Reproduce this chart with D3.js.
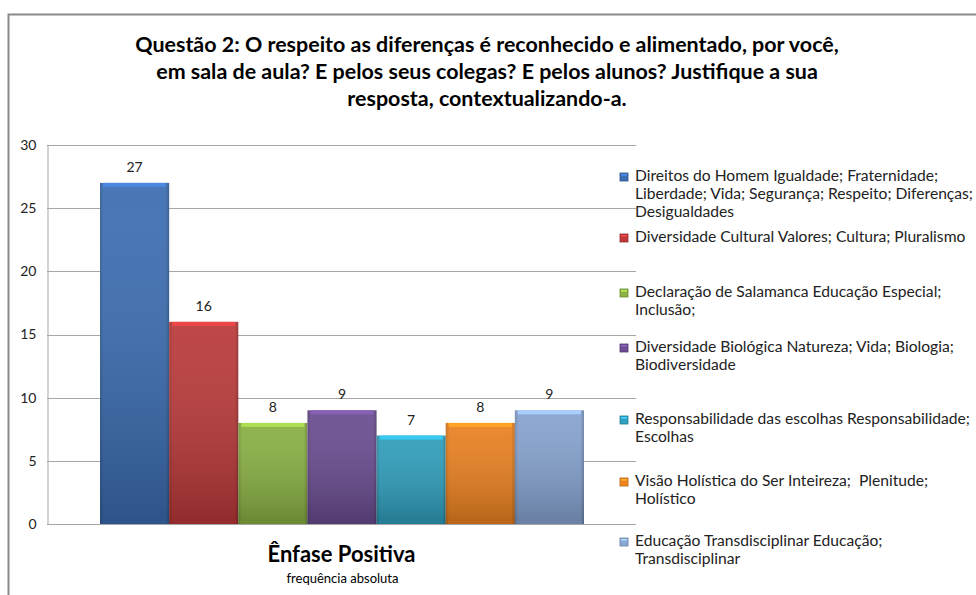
<!DOCTYPE html>
<html><head><meta charset="utf-8">
<script src="https://cdn.jsdelivr.net/npm/d3@7"></script>
<style>body{margin:0;background:#fff}svg{display:block}text{white-space:pre}</style>
</head><body>
<svg id="c" width="976" height="595"></svg>
<script>
const titleLines = ["Questão 2: O respeito as diferenças é reconhecido e alimentado, por você,",
  "em sala de aula? E pelos seus colegas? E pelos alunos? Justifique a sua",
  "resposta, contextualizando-a."];
const category = "Ênfase Positiva";
const axisSubtitle = "frequência absoluta";
const seriesNames = [
  "Direitos do Homem Igualdade; Fraternidade; Liberdade; Vida; Segurança; Respeito; Diferenças; Desigualdades",
  "Diversidade Cultural Valores; Cultura; Pluralismo",
  "Declaração de Salamanca Educação Especial; Inclusão;",
  "Diversidade Biológica Natureza; Vida; Biologia; Biodiversidade",
  "Responsabilidade das escolhas Responsabilidade; Escolhas",
  "Visão Holística do Ser Inteireza;  Plenitude; Holístico",
  "Educação Transdisciplinar Educação; Transdisciplinar"];
const legendLines = [
  ["Direitos do Homem Igualdade; Fraternidade;", "Liberdade; Vida; Segurança; Respeito; Diferenças;", "Desigualdades"],
  ["Diversidade Cultural Valores; Cultura; Pluralismo"],
  ["Declaração de Salamanca Educação Especial;", "Inclusão;"],
  ["Diversidade Biológica Natureza; Vida; Biologia;", "Biodiversidade"],
  ["Responsabilidade das escolhas Responsabilidade;", "Escolhas"],
  ["Visão Holística do Ser Inteireza;  Plenitude;", "Holístico"],
  ["Educação Transdisciplinar Educação;", "Transdisciplinar"]];
const values = [27, 16, 8, 9, 7, 8, 9];
const colors = ["#3b6fb6", "#c0393a", "#8cb443", "#6c4d94", "#2fa2c1", "#f1841f", "#89a7d6"];
const yTicks = [0, 5, 10, 15, 20, 25, 30];

const svg = d3.select("#c");
const FONT = "Lato, 'Open Sans', sans-serif";

// outer frame
svg.append("path").attr("d", "M8.5,595 V14.5 H976").attr("fill", "none").attr("stroke", "#8a8a8a").attr("stroke-width", 2);

const plot = {l: 47, r: 636, t: 145, b: 524};
const y = d3.scaleLinear().domain([0, 30]).range([plot.b, plot.t]);
const x = d3.scaleBand().domain(seriesNames).range([100, 584]).padding(0);

// defs gradients
const defs = svg.append("defs");
colors.forEach((c, i) => {
  const g = defs.append("linearGradient").attr("id", "g" + i).attr("x1", 0).attr("x2", 1).attr("y1", 0).attr("y2", 0);
  const base = d3.color(c);
  g.append("stop").attr("offset", 0).attr("stop-color", base.darker(0.6));
  g.append("stop").attr("offset", 0.05).attr("stop-color", base.darker(0.1));
  g.append("stop").attr("offset", 0.95).attr("stop-color", base.darker(0.1));
  g.append("stop").attr("offset", 1).attr("stop-color", base.darker(0.8));
  const v = defs.append("linearGradient").attr("id", "v" + i).attr("x1", 0).attr("x2", 0).attr("y1", 0).attr("y2", 1);
  v.append("stop").attr("offset", 0).attr("stop-color", "#fff").attr("stop-opacity", 0.08);
  v.append("stop").attr("offset", 1).attr("stop-color", "#000").attr("stop-opacity", 0.22);
});

// gridlines
svg.append("g").selectAll("line").data(yTicks.filter(d => d > 0)).join("line")
  .attr("x1", plot.l).attr("x2", plot.r).attr("y1", d => Math.round(y(d)) + 0.5).attr("y2", d => Math.round(y(d)) + 0.5)
  .attr("stroke", "#a6a6a6").attr("stroke-width", 1);

// y axis
const yAxis = svg.append("g").attr("transform", `translate(${plot.l + 0.5},0)`)
  .call(d3.axisLeft(y).tickValues(yTicks).tickSize(0).tickPadding(11));
yAxis.select(".domain").attr("stroke", "#a6a6a6");
yAxis.selectAll("text").attr("font-family", FONT).attr("font-size", 14).attr("fill", "#222");
// bottom axis line
svg.append("line").attr("x1", plot.l).attr("x2", plot.r).attr("y1", plot.b + 0.5).attr("y2", plot.b + 0.5).attr("stroke", "#a6a6a6");

// bars
const bars = svg.append("g");
const data = seriesNames.map((s, i) => ({s, v: values[i], i}));
bars.selectAll("rect.bar").data(data).join("rect").attr("class", "bar")
  .attr("x", d => x(d.s)).attr("width", x.bandwidth()).attr("y", d => y(d.v)).attr("height", d => y(0) - y(d.v))
  .attr("fill", d => `url(#g${d.i})`);
bars.selectAll("rect.shade").data(data).join("rect").attr("class", "shade")
  .attr("x", d => x(d.s)).attr("width", x.bandwidth()).attr("y", d => y(d.v)).attr("height", d => y(0) - y(d.v))
  .attr("fill", d => `url(#v${d.i})`);
bars.selectAll("rect.cap").data(data).join("rect").attr("class", "cap")
  .attr("x", d => x(d.s) + 3).attr("width", x.bandwidth() - 6).attr("y", d => y(d.v)).attr("height", 4)
  .attr("fill", d => d3.color(colors[d.i]).brighter(0.6));
bars.selectAll("rect.bot").data(data).join("rect").attr("class", "bot")
  .attr("x", d => x(d.s) + 2).attr("width", x.bandwidth() - 4).attr("y", y(0) - 3).attr("height", 3)
  .attr("fill", d => d3.color(colors[d.i]).darker(0.7));

// value labels
svg.append("g").selectAll("text").data(data).join("text")
  .attr("x", d => x(d.s) + x.bandwidth() / 2).attr("y", d => y(d.v) - 11)
  .attr("text-anchor", "middle").attr("font-family", FONT).attr("font-size", 14).attr("fill", "#222")
  .text(d => d.v);

// fit helper
function fit(sel, target) {
  const w = sel.node().getComputedTextLength();
  const fs = parseFloat(sel.attr("font-size"));
  sel.attr("font-size", (fs * target / w).toFixed(2));
}

// title
const tY = [52, 79, 106];
const t0 = svg.append("text").attr("x", 487).attr("y", tY[0]).attr("text-anchor", "middle")
  .attr("font-family", FONT).attr("font-weight", "bold").attr("font-size", 19).attr("fill", "#000").text(titleLines[0]);
fit(t0, 704);
const tfs = t0.attr("font-size");
titleLines.slice(1).forEach((l, i) => {
  svg.append("text").attr("x", 487).attr("y", tY[i + 1]).attr("text-anchor", "middle")
    .attr("font-family", FONT).attr("font-weight", "bold").attr("font-size", tfs).attr("fill", "#000").text(l);
});

// category axis label
const cl = svg.append("text").attr("x", (plot.l + plot.r) / 2).attr("y", 562).attr("text-anchor", "middle")
  .attr("font-family", FONT).attr("font-weight", "bold").attr("font-size", 19).attr("fill", "#000").text(category);
fit(cl, 148);
const sub = svg.append("text").attr("x", (plot.l + plot.r) / 2 + 1).attr("y", 583).attr("text-anchor", "middle")
  .attr("font-family", FONT).attr("font-size", 13).attr("fill", "#000").text(axisSubtitle);
fit(sub, 112);

// legend
const legY = [181, 242, 297, 352, 424, 486, 546];
const leg = svg.append("g");
let lfs = 13;
{
  const probe = leg.append("text").attr("font-family", FONT).attr("font-size", 13).text(legendLines[0][1]);
  lfs = 13 * 338 / probe.node().getComputedTextLength();
  probe.remove();
}
legendLines.forEach((lines, i) => {
  const g = leg.append("g");
  const c = d3.color(colors[i]);
  g.append("rect").attr("x", 620).attr("y", legY[i] - 8).attr("width", 8).attr("height", 8)
    .attr("fill", c).attr("stroke", c.darker(0.8)).attr("stroke-width", 0.8);
  g.append("rect").attr("x", 621).attr("y", legY[i] - 7).attr("width", 6).attr("height", 1.5).attr("fill", c.brighter(0.8));
  lines.forEach((l, j) => {
    g.append("text").attr("x", 635).attr("y", legY[i] + j * 18).attr("font-family", FONT)
      .attr("font-size", lfs.toFixed(2)).attr("fill", "#222").text(l);
  });
});
</script>
</body></html>
